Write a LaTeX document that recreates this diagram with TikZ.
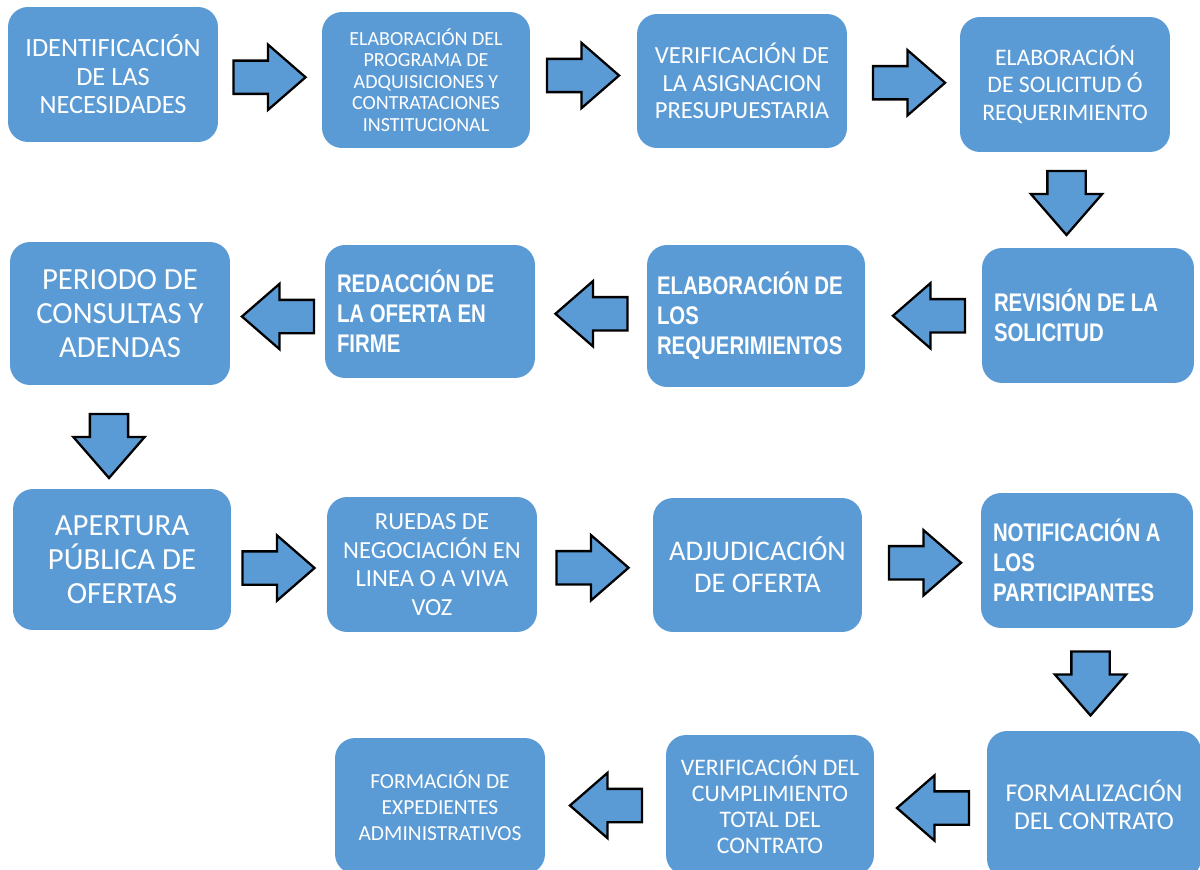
\documentclass[tikz,border=0pt]{standalone}
\usepackage{fontspec}
\setmainfont{Carlito}
\newfontfamily\narrowfont[FakeStretch=0.8]{Liberation Sans}
\usetikzlibrary{shapes.arrows, calc}
\definecolor{boxblue}{HTML}{5B9BD5}

\begin{document}
\begin{tikzpicture}[x=0.02cm, y=-0.02cm,
    block/.style={rectangle, rounded corners=0.4cm, fill=boxblue, text=white, inner sep=0pt, align=center},
    narrow/.style={block, align=left, inner xsep=0.24cm, font=\narrowfont\bfseries\fontsize{14.5}{17}\selectfont, execute at begin node={\spaceskip=0.22em\relax}},
    bigarrow/.style={single arrow, draw=black, fill=boxblue, line width=1.3pt, inner sep=0.31cm, minimum height=1.44cm, minimum width=1.26cm, single arrow head extend=0.32cm, single arrow tip angle=82},
    rightarrow/.style={bigarrow, xshift=-0.2cm},
    leftarrow/.style={bigarrow, shape border rotate=180, xshift=0.2cm},
    downarrow/.style={bigarrow, shape border rotate=270, yshift=0.2cm, inner sep=0.36cm, minimum height=1.28cm, minimum width=1.38cm, single arrow head extend=0.33cm}
]
    \useasboundingbox (0,0) rectangle (1200,869);
    \clip (0,0) rectangle (1200,869);

    % Row 1
    \node[block, minimum width=4.2cm, minimum height=2.7cm, font=\fontsize{15}{16.2}\selectfont] (identif) at (113,74.5) {IDENTIFICACIÓN\\DE LAS\\NECESIDADES};
    \node[block, minimum width=4.16cm, minimum height=2.72cm, font=\fontsize{11.4}{12.2}\selectfont] (programa) at (426,80) {ELABORACIÓN DEL\\PROGRAMA DE\\ADQUISICIONES Y\\CONTRATACIONES\\INSTITUCIONAL};
    \node[block, minimum width=4.2cm, minimum height=2.68cm, font=\fontsize{14}{15.5}\selectfont] (asignacion) at (742,81) {VERIFICACIÓN DE\\LA ASIGNACION\\PRESUPUESTARIA};
    \node[block, minimum width=4.2cm, minimum height=2.7cm, font=\fontsize{13.5}{15.6}\selectfont] (solicitud) at (1065,84.5) {ELABORACIÓN\\DE SOLICITUD Ó\\REQUERIMIENTO};

    % Row 2
    \node[narrow, minimum width=4.24cm, text width=3.76cm, minimum height=2.7cm] (revision) at (1088,315.5) {REVISIÓN DE LA\\SOLICITUD};
    \node[narrow, minimum width=4.36cm, text width=3.96cm, inner xsep=0.2cm, minimum height=2.84cm] (requer) at (756,316) {ELABORACIÓN DE\\LOS\\REQUERIMIENTOS};
    \node[narrow, minimum width=4.2cm, text width=3.72cm, minimum height=2.66cm] (redaccion) at (430,311.5) {REDACCIÓN DE\\LA OFERTA EN\\FIRME};
    \node[block, minimum width=4.4cm, minimum height=2.86cm, font=\fontsize{17.5}{19.4}\selectfont] (consultas) at (120,313.5) {PERIODO DE\\CONSULTAS Y\\ADENDAS};

    % Row 3
    \node[block, minimum width=4.36cm, minimum height=2.82cm, font=\fontsize{17.5}{19.5}\selectfont] (apertura) at (122,559.5) {APERTURA\\PÚBLICA DE\\OFERTAS};
    \node[block, minimum width=4.2cm, minimum height=2.7cm, font=\fontsize{14}{16.2}\selectfont] (ruedas) at (432,564.5) {RUEDAS DE\\NEGOCIACIÓN EN\\LINEA O A VIVA\\VOZ};
    \node[block, minimum width=4.18cm, minimum height=2.68cm, font=\fontsize{16.2}{18.2}\selectfont] (adjudic) at (757.5,565) {ADJUDICACIÓN\\DE OFERTA};
    \node[narrow, minimum width=4.2cm, text width=3.76cm, minimum height=2.7cm] (notific) at (1087,560.5) {NOTIFICACIÓN A\\LOS\\PARTICIPANTES};

    % Row 4
    \node[block, minimum width=4.28cm, minimum height=2.96cm, font=\fontsize{14.6}{16}\selectfont] (formaliz) at (1094,805) {FORMALIZACIÓN\\DEL CONTRATO};
    \node[block, minimum width=4.16cm, minimum height=2.8cm, font=\fontsize{13.5}{14.8}\selectfont] (cumplim) at (770,805) {VERIFICACIÓN DEL\\CUMPLIMIENTO\\TOTAL DEL\\CONTRATO};
    \node[block, minimum width=4.2cm, minimum height=2.72cm, font=\fontsize{12.2}{14.8}\selectfont] (expedientes) at (440,806) {FORMACIÓN DE\\EXPEDIENTES\\ADMINISTRATIVOS};

    % Arrows
    \node[rightarrow] (arr_1) at ($(identif.east)!0.5!(programa.west)$) {};
    \node[rightarrow] (arr_2) at ($(programa.east)!0.5!(asignacion.west)+(0,-5)$) {};
    \node[rightarrow] (arr_3) at ($(asignacion.east)!0.5!(solicitud.west)+(6,0)$) {};
    \node[downarrow] (arr_4) at ($(solicitud.south)!0.5!(revision.north)+(-10,2)$) {};
    \node[leftarrow] (arr_5) at ($(revision.west)!0.5!(requer.east)+(5,0)$) {};
    \node[leftarrow] (arr_6) at ($(requer.west)!0.5!(redaccion.east)$) {};
    \node[leftarrow] (arr_7) at ($(redaccion.west)!0.5!(consultas.east)+(0,4)$) {};
    \node[downarrow] (arr_8) at ($(consultas.south)!0.5!(apertura.north)+(-12,8)$) {};
    \node[rightarrow] (arr_9) at ($(apertura.east)!0.5!(ruedas.west)+(0,6)$) {};
    \node[rightarrow] (arr_10) at ($(ruedas.east)!0.5!(adjudic.west)+(-2,3)$) {};
    \node[rightarrow] (arr_11) at ($(adjudic.east)!0.5!(notific.west)+(4,0)$) {};
    \node[downarrow] (arr_12) at ($(notific.south)!0.5!(formaliz.north)+(0,3)$) {};
    \node[leftarrow] (arr_13) at ($(formaliz.west)!0.5!(cumplim.east)+(2,3)$) {};
    \node[leftarrow] (arr_14) at ($(cumplim.west)!0.5!(expedientes.east)$) {};
\end{tikzpicture}
\end{document}
